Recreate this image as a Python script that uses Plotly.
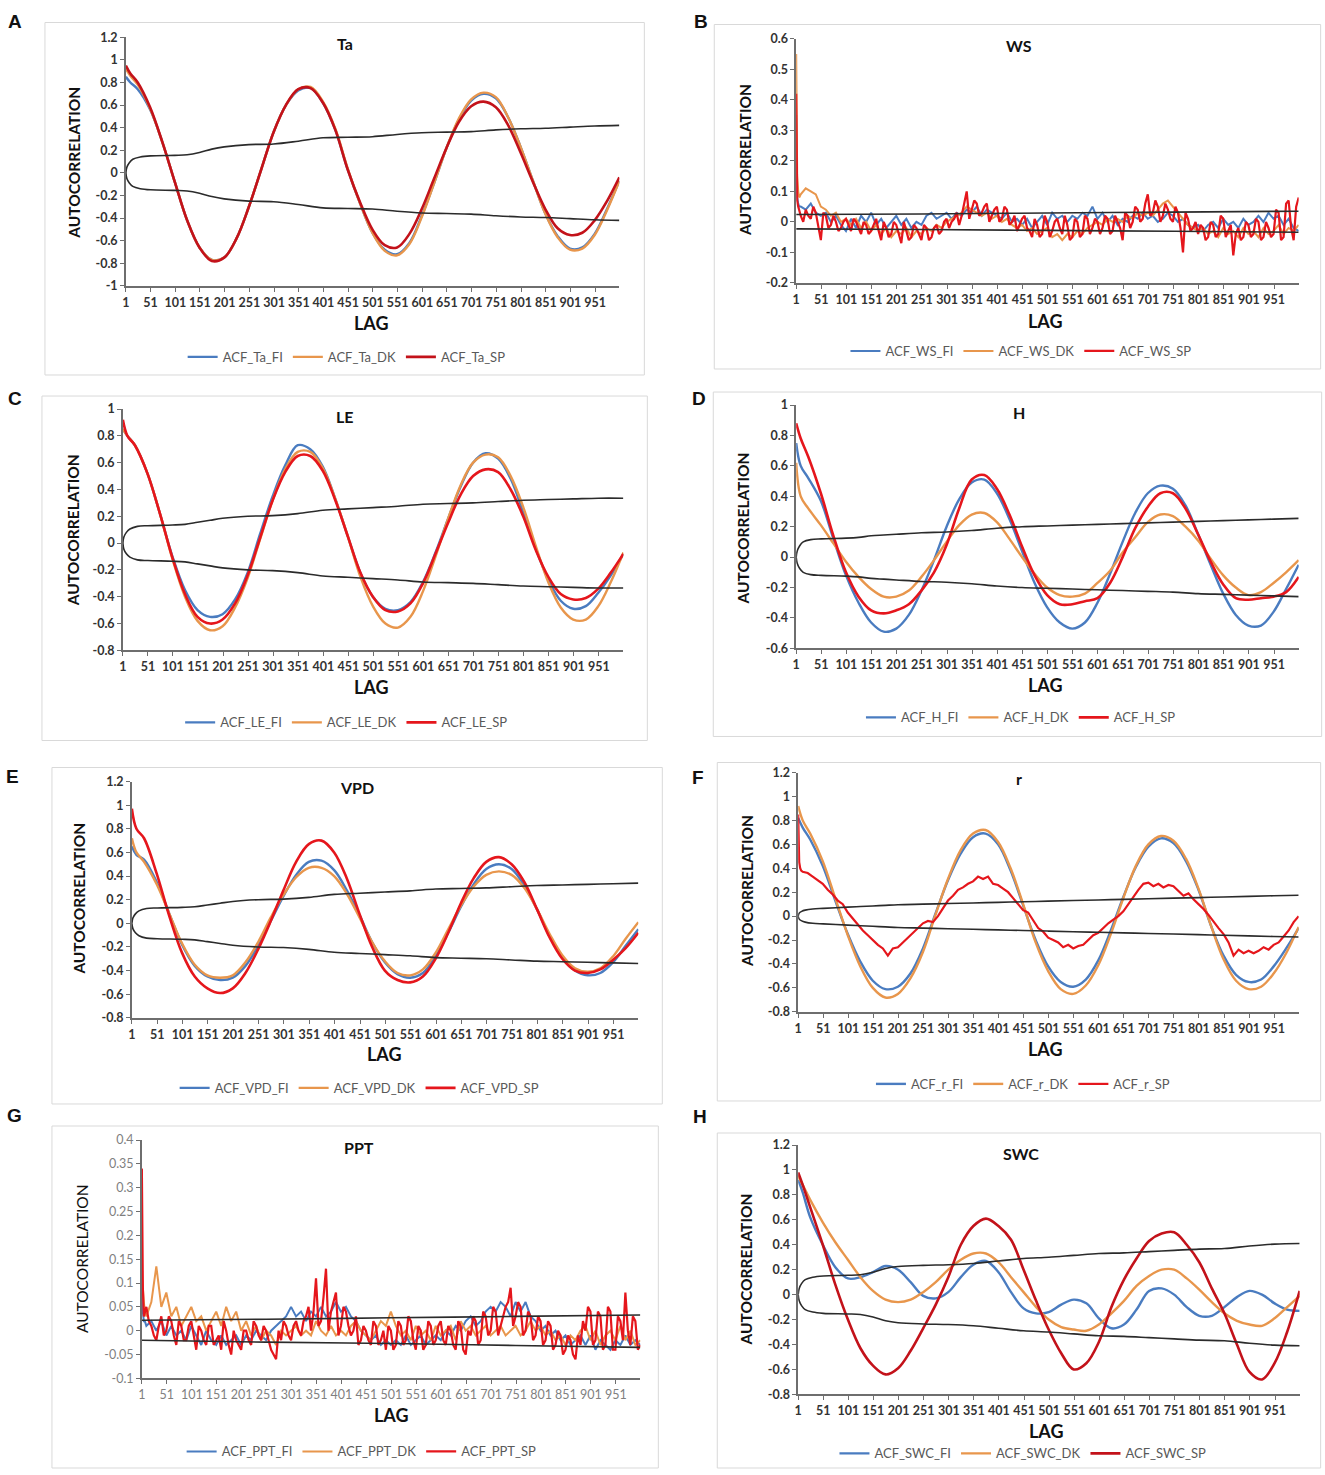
import plotly.graph_objects as go

W, H = 1325, 1475

# ---------------- lags (categories) ----------------
LAGS_S = [1, 10] + list(range(25, 1001, 25))          # smooth series sampling
LAGS_N = [1, 2, 3, 5, 7] + list(range(10, 1001, 10))   # noisy series sampling
LAGS_D = [1, 2, 3, 4] + list(range(5, 1001, 5))        # dense noisy sampling
BAND_LAGS = [1, 3, 8, 15, 30, 51, 100, 125, 150, 175, 200, 250, 300, 350, 400,
             450, 500, 550, 600, 650, 700, 750, 800, 850, 900, 950, 1000]
BAND_LAGS_FLAT = [1, 250, 500, 750, 1000]
X_TICKS = list(range(1, 1000, 50))

# ---------------- A: Ta ----------------
TA_FI = [0.85, 0.80, 0.74, 0.56, 0.27, -0.08, -0.42, -0.66, -0.77, -0.75,
         -0.58, -0.30, 0.03, 0.36, 0.60, 0.73, 0.75, 0.62, 0.38, 0.03,
         -0.27, -0.53, -0.68, -0.72, -0.62, -0.38, -0.09, 0.22, 0.47, 0.64,
         0.70, 0.66, 0.49, 0.23, -0.07, -0.36, -0.56, -0.67, -0.66, -0.54,
         -0.32, -0.07]
TA_DK = [0.92, 0.86, 0.78, 0.57, 0.27, -0.08, -0.42, -0.66, -0.77, -0.75,
         -0.58, -0.30, 0.03, 0.36, 0.60, 0.74, 0.76, 0.63, 0.39, 0.04,
         -0.27, -0.53, -0.69, -0.73, -0.63, -0.39, -0.09, 0.22, 0.48, 0.65,
         0.71, 0.67, 0.49, 0.23, -0.07, -0.36, -0.57, -0.68, -0.67, -0.55,
         -0.33, -0.07]
TA_SP = [0.95, 0.88, 0.80, 0.58, 0.27, -0.08, -0.42, -0.66, -0.78, -0.75,
         -0.58, -0.30, 0.03, 0.36, 0.60, 0.74, 0.75, 0.62, 0.38, 0.03,
         -0.26, -0.50, -0.64, -0.66, -0.54, -0.32, -0.05, 0.22, 0.45, 0.59,
         0.63, 0.58, 0.42, 0.18, -0.08, -0.32, -0.49, -0.55, -0.53, -0.42,
         -0.25, -0.04]
TA_UP = [0, 0.05, 0.09, 0.12, 0.14, 0.15, 0.155, 0.16, 0.18, 0.21, 0.23, 0.25, 0.255, 0.28,
         0.31, 0.315, 0.32, 0.34, 0.355, 0.36, 0.365, 0.38, 0.39, 0.395, 0.405, 0.415, 0.42]
TA_LO = [0, -0.05, -0.09, -0.12, -0.14, -0.15, -0.155, -0.16, -0.18, -0.21, -0.23, -0.25, -0.255, -0.28,
         -0.31, -0.315, -0.32, -0.34, -0.355, -0.36, -0.365, -0.38, -0.39, -0.395, -0.405, -0.415, -0.42]

# ---------------- B: WS ----------------
WS_FI = [0.35, 0.12, 0.08, 0.06, 0.05,
         0.05, 0.04, 0.06, 0.03, 0.02, 0.03, 0.00, 0.02, -0.01, -0.03,
         0.01, -0.02, 0.02, 0.00, 0.03, -0.01, 0.01, -0.02, 0.00, 0.02,
         -0.01, 0.01, -0.02, 0.00, -0.01, 0.02, 0.03, 0.01, 0.02, 0.03,
         0.01, 0.03, 0.02, 0.04, 0.03, 0.05, 0.02, 0.04, 0.03, 0.02,
         0.01, 0.03, 0.00, 0.01, -0.01, 0.01, -0.02, 0.00, 0.02, -0.01,
         0.03, 0.01, 0.02, 0.00, 0.02, 0.01, 0.03, 0.02, 0.05, 0.01,
         0.03, 0.00, 0.02, -0.01, 0.01, 0.00, 0.02, 0.01, 0.03, 0.01,
         0.02, 0.00, 0.01, 0.03, 0.02, 0.00, 0.01, -0.01, -0.02, -0.01,
         -0.03, -0.01, 0.00, -0.02, 0.01, -0.01, 0.00, -0.02, 0.01, -0.01,
         0.00, 0.02, 0.00, 0.03, 0.01, 0.02, -0.01, 0.01, -0.02, -0.03]
WS_DK = [0.55, 0.20, 0.15, 0.10, 0.08,
         0.09, 0.11, 0.10, 0.09, 0.05, 0.04, 0.02, 0.03, 0.00, 0.01,
         -0.01, 0.01, -0.02, 0.00, -0.03, -0.01, -0.04, -0.02, -0.05, -0.03,
         -0.04, -0.02, -0.05, -0.03, -0.04, -0.02, -0.03, -0.01, -0.02, 0.00,
         0.01, 0.02, 0.03, 0.05, 0.04, 0.03, 0.02, 0.03, 0.01, 0.02,
         0.00, 0.01, -0.01, -0.02, -0.01, -0.03, -0.02, -0.04, -0.03, -0.02,
         -0.05, -0.04, -0.06, -0.04, -0.05, -0.03, -0.04, -0.02, -0.01, 0.00,
         -0.01, 0.01, 0.00, 0.01, 0.00, 0.02, 0.01, 0.03, 0.02, 0.03,
         0.02, 0.04, 0.06, 0.07, 0.05, 0.03, 0.01, -0.01, -0.02, -0.03,
         -0.02, -0.04, -0.03, -0.05, -0.02, -0.04, -0.03, -0.05, -0.02, -0.04,
         -0.03, -0.05, -0.02, -0.04, -0.03, -0.01, -0.04, -0.02, -0.03, -0.01]
WS_SP = [0.42, 0.10, 0.07, 0.06,
         0.05, 0.02, 0.00, 0.04, 0.02, 0.01, 0.05, 0.03, -0.01, -0.06,
         0.03, 0.02, -0.02, -0.01, 0.02, 0.00, -0.03, -0.02, 0.00, 0.01,
         -0.01, -0.03, 0.01, 0.00, -0.02, -0.04, 0.00, -0.01, -0.04, -0.03,
         -0.01, 0.01, -0.03, -0.06, 0.00, -0.02, -0.05, -0.04, 0.00, -0.01,
         -0.04, -0.07, 0.00, -0.03, -0.06, -0.05, -0.01, -0.02, -0.04, -0.06,
         -0.01, -0.02, -0.06, -0.05, -0.02, -0.01, -0.04, -0.03, 0.00, 0.01,
         -0.02, 0.00, 0.01, 0.03, -0.01, 0.02, 0.06, 0.10, 0.01, 0.04,
         0.07, 0.06, 0.02, 0.03, 0.05, 0.06, 0.00, 0.02, 0.04, 0.05,
         0.00, 0.01, 0.05, 0.04, -0.01, 0.00, 0.02, -0.03, -0.01, 0.01,
         0.02, -0.02, -0.03, -0.05, 0.01, -0.01, -0.05, -0.04, 0.02, 0.00,
         -0.05, -0.03, 0.00, 0.01, -0.02, -0.04, 0.02, -0.01, -0.06, -0.05,
         0.01, 0.00, -0.05, -0.04, 0.02, 0.01, -0.04, -0.02, 0.01, 0.00,
         -0.04, -0.02, 0.02, 0.01, -0.04, -0.03, 0.02, 0.00, -0.02, -0.06,
         0.03, 0.02, -0.02, 0.00, 0.05, 0.04, 0.00, 0.01, 0.06, 0.09,
         0.02, 0.03, 0.07, 0.05, 0.00, 0.02, 0.06, 0.04, 0.01, 0.00,
         0.05, 0.03, -0.02, -0.10, 0.03, 0.01, -0.03, -0.02, 0.00, -0.04,
         -0.01, -0.02, -0.06, -0.05, 0.00, -0.01, -0.05, -0.04, 0.02, 0.01,
         -0.05, -0.03, -0.01, -0.11, -0.04, -0.02, -0.06, -0.05, 0.00, -0.01,
         -0.05, -0.04, 0.01, 0.00, -0.06, -0.05, 0.00, -0.02, -0.05, -0.04,
         0.04, 0.03, -0.06, -0.05, 0.06, 0.07, -0.02, -0.06, 0.05, 0.08]
WS_UP = [0.024, 0.026, 0.029, 0.032, 0.035]
WS_LO = [-0.023, -0.025, -0.028, -0.031, -0.034]

# ---------------- C: LE ----------------
LE_FI = [0.85, 0.80, 0.73, 0.52, 0.22, -0.10, -0.35, -0.50, -0.55, -0.53,
         -0.42, -0.22, 0.07, 0.35, 0.58, 0.73, 0.70, 0.57, 0.33, 0.05,
         -0.22, -0.40, -0.49, -0.50, -0.44, -0.29, -0.07, 0.18, 0.42, 0.60,
         0.67, 0.63, 0.48, 0.23, -0.04, -0.27, -0.43, -0.49, -0.47, -0.37,
         -0.24, -0.08]
LE_DK = [0.85, 0.80, 0.73, 0.52, 0.22, -0.12, -0.40, -0.58, -0.65, -0.62,
         -0.48, -0.26, 0.03, 0.32, 0.55, 0.68, 0.68, 0.56, 0.33, 0.05,
         -0.25, -0.47, -0.60, -0.63, -0.55, -0.36, -0.10, 0.18, 0.43, 0.60,
         0.66, 0.64, 0.50, 0.27, -0.02, -0.29, -0.48, -0.57, -0.57, -0.47,
         -0.29, -0.07]
LE_SP = [0.92, 0.80, 0.73, 0.52, 0.22, -0.11, -0.38, -0.55, -0.60, -0.57,
         -0.45, -0.24, 0.04, 0.32, 0.53, 0.65, 0.65, 0.54, 0.32, 0.05,
         -0.22, -0.40, -0.50, -0.51, -0.45, -0.30, -0.08, 0.15, 0.36, 0.50,
         0.55, 0.53, 0.40, 0.20, -0.05, -0.25, -0.38, -0.42, -0.41, -0.34,
         -0.22, -0.08]
LE_UP = [0, 0.045, 0.08, 0.105, 0.125, 0.13, 0.135, 0.14, 0.155, 0.17, 0.185, 0.20, 0.205, 0.22,
         0.245, 0.255, 0.265, 0.275, 0.29, 0.295, 0.30, 0.31, 0.32, 0.325, 0.33, 0.335, 0.335]
LE_LO = [0, -0.045, -0.08, -0.105, -0.125, -0.13, -0.135, -0.14, -0.155, -0.17, -0.185, -0.20, -0.205, -0.22,
         -0.245, -0.255, -0.265, -0.275, -0.29, -0.295, -0.30, -0.31, -0.32, -0.325, -0.33, -0.335, -0.335]

# ---------------- D: H ----------------
H_FI = [0.75, 0.60, 0.52, 0.37, 0.12, -0.12, -0.30, -0.43, -0.49, -0.47,
        -0.38, -0.22, -0.02, 0.20, 0.38, 0.49, 0.51, 0.42, 0.25, 0.04,
        -0.17, -0.33, -0.43, -0.47, -0.43, -0.30, -0.11, 0.10, 0.29, 0.42,
        0.47, 0.45, 0.34, 0.15, -0.05, -0.24, -0.38, -0.45, -0.45, -0.36,
        -0.21, -0.05]
H_DK = [0.62, 0.40, 0.32, 0.21, 0.09, -0.03, -0.13, -0.21, -0.26, -0.26,
        -0.22, -0.13, -0.02, 0.10, 0.21, 0.28, 0.29, 0.23, 0.12, 0.00,
        -0.11, -0.20, -0.25, -0.26, -0.24, -0.17, -0.09, 0.03, 0.13, 0.23,
        0.28, 0.27, 0.20, 0.11, -0.01, -0.12, -0.20, -0.25, -0.23, -0.17,
        -0.10, -0.02]
H_SP = [0.88, 0.78, 0.66, 0.42, 0.14, -0.10, -0.26, -0.35, -0.37, -0.35,
        -0.31, -0.22, -0.10, 0.08, 0.32, 0.51, 0.54, 0.45, 0.28, 0.07,
        -0.12, -0.25, -0.31, -0.31, -0.29, -0.27, -0.17, 0.00, 0.19, 0.33,
        0.42, 0.42, 0.32, 0.15, -0.03, -0.18, -0.27, -0.28, -0.27, -0.26,
        -0.23, -0.13]
H_UP = [0, 0.04, 0.075, 0.10, 0.115, 0.12, 0.125, 0.13, 0.14, 0.145, 0.15, 0.16, 0.165, 0.175,
        0.19, 0.20, 0.205, 0.21, 0.215, 0.22, 0.225, 0.23, 0.235, 0.24, 0.245, 0.25, 0.255]
H_LO = [0, -0.04, -0.075, -0.10, -0.115, -0.12, -0.125, -0.13, -0.14, -0.145, -0.15, -0.16, -0.165, -0.175,
        -0.19, -0.20, -0.205, -0.21, -0.215, -0.22, -0.225, -0.23, -0.24, -0.245, -0.25, -0.255, -0.26]

# ---------------- E: VPD ----------------
VPD_FI = [0.65, 0.58, 0.54, 0.35, 0.08, -0.18, -0.36, -0.45, -0.48, -0.46,
          -0.36, -0.19, 0.02, 0.23, 0.41, 0.52, 0.53, 0.45, 0.28, 0.07,
          -0.16, -0.33, -0.43, -0.46, -0.42, -0.28, -0.08, 0.14, 0.33, 0.46,
          0.50, 0.46, 0.32, 0.12, -0.11, -0.29, -0.40, -0.44, -0.42, -0.33,
          -0.19, -0.05]
VPD_DK = [0.72, 0.60, 0.52, 0.33, 0.08, -0.17, -0.35, -0.44, -0.46, -0.44,
          -0.33, -0.16, 0.05, 0.24, 0.39, 0.47, 0.47, 0.40, 0.25, 0.05,
          -0.16, -0.32, -0.42, -0.44, -0.39, -0.25, -0.05, 0.15, 0.31, 0.41,
          0.44, 0.41, 0.30, 0.12, -0.09, -0.27, -0.38, -0.41, -0.38, -0.28,
          -0.13, 0.01]
VPD_SP = [0.97, 0.80, 0.72, 0.42, 0.06, -0.25, -0.45, -0.55, -0.59, -0.55,
          -0.42, -0.22, 0.02, 0.28, 0.52, 0.67, 0.70, 0.60, 0.38, 0.08,
          -0.20, -0.40, -0.48, -0.50, -0.45, -0.30, -0.08, 0.17, 0.38, 0.52,
          0.56, 0.50, 0.35, 0.12, -0.12, -0.30, -0.40, -0.42, -0.39, -0.31,
          -0.21, -0.08]
VPD_UP = [0, 0.045, 0.08, 0.105, 0.125, 0.13, 0.135, 0.14, 0.155, 0.17, 0.185, 0.20, 0.205, 0.22,
          0.245, 0.255, 0.265, 0.275, 0.29, 0.295, 0.30, 0.31, 0.32, 0.325, 0.33, 0.335, 0.34]
VPD_LO = [0, -0.045, -0.08, -0.105, -0.125, -0.13, -0.135, -0.14, -0.155, -0.17, -0.185, -0.20, -0.205, -0.22,
          -0.245, -0.255, -0.265, -0.275, -0.29, -0.295, -0.30, -0.31, -0.32, -0.325, -0.33, -0.335, -0.34]

# ---------------- F: r ----------------
R_FI = [0.82, 0.74, 0.64, 0.42, 0.13, -0.15, -0.38, -0.54, -0.61, -0.59,
        -0.48, -0.27, 0.02, 0.30, 0.52, 0.66, 0.69, 0.60, 0.38, 0.09,
        -0.20, -0.42, -0.55, -0.59, -0.53, -0.37, -0.12, 0.16, 0.41, 0.58,
        0.65, 0.61, 0.46, 0.22, -0.08, -0.33, -0.49, -0.55, -0.53, -0.42,
        -0.27, -0.10]
R_DK = [0.92, 0.80, 0.69, 0.46, 0.15, -0.16, -0.42, -0.60, -0.68, -0.65,
        -0.52, -0.30, 0.01, 0.31, 0.55, 0.69, 0.72, 0.62, 0.40, 0.10,
        -0.22, -0.46, -0.61, -0.65, -0.58, -0.41, -0.15, 0.15, 0.42, 0.60,
        0.67, 0.63, 0.48, 0.23, -0.08, -0.36, -0.54, -0.61, -0.59, -0.48,
        -0.31, -0.09]
R_SP = [0.85, 0.55, 0.45, 0.40, 0.38,
        0.37, 0.36, 0.33, 0.30, 0.27, 0.22, 0.18, 0.13, 0.10, 0.03,
        -0.02, -0.07, -0.12, -0.16, -0.20, -0.24, -0.27, -0.33, -0.27, -0.26,
        -0.22, -0.18, -0.14, -0.10, -0.06, -0.04, -0.05, 0.00, 0.06, 0.13,
        0.17, 0.22, 0.24, 0.27, 0.29, 0.33, 0.31, 0.33, 0.27, 0.26,
        0.23, 0.20, 0.15, 0.10, 0.05, 0.03, -0.04, -0.10, -0.13, -0.18,
        -0.20, -0.22, -0.26, -0.24, -0.27, -0.25, -0.24, -0.20, -0.16, -0.14,
        -0.10, -0.06, -0.03, 0.00, 0.04, 0.10, 0.17, 0.22, 0.27, 0.28,
        0.25, 0.27, 0.24, 0.26, 0.25, 0.21, 0.17, 0.19, 0.14, 0.10,
        0.06, 0.01, -0.05, -0.10, -0.15, -0.22, -0.33, -0.28, -0.31, -0.29,
        -0.31, -0.29, -0.26, -0.28, -0.24, -0.22, -0.17, -0.12, -0.05, 0.00]
R_UP = [0, 0.025, 0.04, 0.05, 0.06, 0.065, 0.075, 0.08, 0.085, 0.09, 0.095, 0.10, 0.105, 0.11,
        0.115, 0.12, 0.125, 0.13, 0.135, 0.14, 0.145, 0.15, 0.155, 0.16, 0.165, 0.17, 0.175]
R_LO = [0, -0.025, -0.04, -0.05, -0.06, -0.065, -0.075, -0.08, -0.085, -0.09, -0.095, -0.10, -0.105, -0.11,
        -0.115, -0.12, -0.125, -0.13, -0.135, -0.14, -0.145, -0.15, -0.155, -0.16, -0.165, -0.17, -0.175]

# ---------------- G: PPT ----------------
PPT_FI = [0.10, 0.05, 0.04, 0.02, 0.02,
          0.01, 0.02, 0.00, 0.02, -0.01, 0.01, -0.01, 0.00, -0.02, 0.01,
          -0.01, -0.03, 0.00, -0.02, -0.03, -0.01, -0.03, -0.02, -0.01, -0.03,
          -0.01, -0.02, 0.00, -0.01, -0.02, 0.00, 0.01, 0.02, 0.03, 0.05,
          0.03, 0.04, 0.02, 0.04, 0.03, 0.05, 0.03, 0.04, 0.06, 0.04,
          0.05, 0.03, 0.02, 0.00, -0.01, -0.02, -0.01, -0.03, -0.02, -0.03,
          -0.02, -0.03, -0.01, -0.03, -0.02, -0.01, -0.03, -0.02, -0.01, -0.02,
          0.00, -0.01, 0.01, 0.00, 0.02, 0.03, 0.01, 0.02, 0.04, 0.05,
          0.04, 0.06, 0.05, 0.03, 0.06, 0.04, 0.06, 0.03, 0.02, 0.00,
          0.01, -0.01, 0.00, -0.02, -0.01, -0.03, -0.02, -0.01, -0.03, -0.01,
          -0.04, -0.02, -0.03, -0.04, -0.02, -0.03, -0.01, -0.03, -0.02, -0.03]
PPT_DK = [0.12, 0.10, 0.08, 0.06, 0.04,
          0.03, 0.06, 0.135, 0.05, 0.08, 0.03, 0.05, 0.01, 0.03, 0.05,
          0.02, 0.03, 0.00, 0.02, 0.04, 0.01, 0.05, 0.02, 0.04, 0.00,
          0.02, -0.01, 0.01, -0.02, 0.00, -0.01, -0.03, 0.00, -0.01, 0.00,
          0.01, -0.01, 0.00, -0.01, 0.02, 0.00, -0.01, 0.01, -0.01, 0.00,
          -0.01, 0.01, 0.02, 0.00, -0.01, -0.02, 0.00, 0.02, 0.01, 0.04,
          0.01, -0.01, 0.00, -0.02, 0.01, -0.01, 0.00, -0.02, 0.01, -0.01,
          0.00, 0.01, -0.02, 0.02, 0.00, 0.01, -0.01, 0.00, 0.01, -0.01,
          0.00, 0.01, -0.01, 0.00, 0.01, -0.01, 0.00, 0.02, 0.00, 0.01,
          -0.01, 0.00, -0.02, -0.01, -0.03, -0.01, -0.02, 0.00, 0.01, -0.02,
          0.00, -0.03, -0.01, 0.00, -0.02, 0.01, -0.02, 0.00, -0.03, -0.02]
PPT_SP = [0.34, 0.15, 0.09, 0.06,
          0.03, 0.05, 0.02, 0.01, -0.01, -0.02, 0.01, 0.03, -0.01, 0.00,
          0.03, 0.02, -0.01, -0.03, 0.02, 0.01, -0.02, -0.02, 0.01, 0.02,
          -0.01, -0.04, 0.01, 0.00, -0.02, -0.03, 0.01, 0.01, -0.03, -0.02,
          -0.01, -0.04, 0.02, 0.00, -0.03, -0.05, 0.00, -0.02, -0.03, -0.04,
          0.00, 0.00, -0.02, -0.03, 0.02, 0.01, -0.01, -0.02, 0.01, 0.00,
          -0.02, -0.04, -0.05, -0.06, 0.00, -0.02, 0.02, 0.01, -0.01, -0.02,
          0.01, 0.02, 0.00, -0.01, 0.02, 0.03, 0.05, 0.00, 0.04, 0.11,
          0.01, 0.02, 0.07, 0.13, 0.00, 0.04, 0.06, 0.08, -0.01, 0.01,
          0.05, 0.04, 0.01, -0.01, 0.00, 0.03, -0.03, -0.02, 0.01, 0.00,
          -0.02, -0.03, 0.02, 0.01, -0.03, -0.02, 0.00, -0.04, 0.01, 0.00,
          -0.04, -0.03, 0.02, 0.01, -0.03, -0.02, 0.03, 0.02, -0.02, -0.04,
          0.01, 0.00, -0.04, -0.03, 0.02, 0.01, -0.03, -0.02, 0.01, 0.02,
          -0.02, -0.03, 0.01, 0.00, -0.03, -0.04, 0.02, 0.01, -0.04, -0.05,
          0.00, -0.01, 0.03, 0.02, -0.03, -0.02, 0.04, 0.03, -0.01, 0.00,
          0.05, 0.04, -0.01, 0.01, 0.03, 0.05, 0.06, 0.09, 0.01, 0.03,
          0.06, 0.05, -0.01, 0.00, 0.04, 0.03, -0.02, -0.01, 0.03, 0.02,
          -0.03, -0.02, 0.02, 0.01, -0.04, -0.03, 0.00, -0.01, -0.05, -0.04,
          -0.01, -0.02, -0.05, -0.06, -0.01, -0.03, 0.02, 0.00, 0.05, 0.04,
          -0.03, -0.02, 0.04, 0.03, -0.04, -0.03, 0.05, 0.04, -0.04, -0.04,
          0.03, 0.02, -0.02, 0.08, 0.00, -0.03, 0.03, 0.02, -0.04, -0.03]
PPT_UP = [0.022, 0.024, 0.027, 0.030, 0.033]
PPT_LO = [-0.020, -0.024, -0.027, -0.031, -0.035]

# ---------------- H: SWC ----------------
SWC_FI = [0.92, 0.82, 0.62, 0.40, 0.22, 0.13, 0.14, 0.18, 0.23, 0.20,
          0.10, -0.01, -0.03, 0.02, 0.14, 0.24, 0.27, 0.18, 0.02, -0.11,
          -0.15, -0.14, -0.08, -0.04, -0.07, -0.19, -0.27, -0.24, -0.12, 0.03,
          0.05, 0.00, -0.10, -0.17, -0.17, -0.10, -0.02, 0.03, 0.00, -0.07,
          -0.12, -0.13]
SWC_DK = [0.95, 0.88, 0.76, 0.58, 0.42, 0.28, 0.14, 0.03, -0.04, -0.06,
          -0.04, 0.02, 0.10, 0.20, 0.28, 0.33, 0.33, 0.26, 0.14, 0.02,
          -0.10, -0.20, -0.26, -0.28, -0.29, -0.24, -0.15, -0.05, 0.07, 0.15,
          0.20, 0.20, 0.13, 0.04, -0.06, -0.15, -0.21, -0.24, -0.25, -0.19,
          -0.10, -0.01]
SWC_SP = [0.98, 0.88, 0.70, 0.40, 0.08, -0.20, -0.43, -0.57, -0.64, -0.59,
          -0.45, -0.27, -0.08, 0.14, 0.40, 0.55, 0.61, 0.55, 0.44, 0.20,
          -0.05, -0.28, -0.47, -0.60, -0.55, -0.38, -0.10, 0.12, 0.29, 0.43,
          0.49, 0.50, 0.40, 0.26, 0.05, -0.15, -0.40, -0.62, -0.68, -0.55,
          -0.30, 0.03]
SWC_UP = [0, 0.05, 0.09, 0.12, 0.14, 0.15, 0.155, 0.16, 0.18, 0.21, 0.225, 0.235, 0.24, 0.25,
          0.27, 0.29, 0.30, 0.315, 0.33, 0.335, 0.345, 0.355, 0.365, 0.37, 0.39, 0.405, 0.41]
SWC_LO = [0, -0.05, -0.09, -0.12, -0.14, -0.15, -0.155, -0.16, -0.18, -0.21, -0.225, -0.235, -0.24, -0.25,
          -0.27, -0.29, -0.30, -0.315, -0.33, -0.335, -0.345, -0.355, -0.365, -0.37, -0.39, -0.405, -0.41]

# ---------------- y tick lists ----------------
YT_A = [-1, -0.8, -0.6, -0.4, -0.2, 0, 0.2, 0.4, 0.6, 0.8, 1, 1.2]
YT_B = [-0.2, -0.1, 0, 0.1, 0.2, 0.3, 0.4, 0.5, 0.6]
YT_C = [-0.8, -0.6, -0.4, -0.2, 0, 0.2, 0.4, 0.6, 0.8, 1]
YT_D = [-0.6, -0.4, -0.2, 0, 0.2, 0.4, 0.6, 0.8, 1]
YT_E = [-0.8, -0.6, -0.4, -0.2, 0, 0.2, 0.4, 0.6, 0.8, 1, 1.2]
YT_G = [-0.1, -0.05, 0, 0.05, 0.1, 0.15, 0.2, 0.25, 0.3, 0.35, 0.4]

# ---------------- styles ----------------
BLUE = "#4A7CC0"
ORANGE = "#E8964C"
RED = "#E5161C"
DARKRED = "#C3121A"
BAND = "#2B2B2B"

PANELS = [
    dict(letter="A", title="Ta", var="Ta", yt=YT_A,
         series=[(TA_FI, LAGS_S, "spline"), (TA_DK, LAGS_S, "spline"), (TA_SP, LAGS_S, "spline")],
         band=(TA_UP, TA_LO, BAND_LAGS), red=DARKRED, plain=False,
         geom=dict(x0=124, x1=618, y0=37.7, y1=286, box=(43, 23, 643, 375), letter=(13, 22),
                   title=(343, 44), lag=(370, 323), ytitle=(72, 163), legend=(345, 357))),
    dict(letter="B", title="WS", var="WS", yt=YT_B,
         series=[(WS_FI, LAGS_N, "linear"), (WS_DK, LAGS_N, "linear"), (WS_SP, LAGS_D, "linear")],
         band=(WS_UP, WS_LO, BAND_LAGS_FLAT), red=RED, plain=False,
         geom=dict(x0=795, x1=1298, y0=39.3, y1=283, box=(713, 25, 1320, 369), letter=(700, 22),
                   title=(1018, 46), lag=(1045, 321), ytitle=(743, 160), legend=(1020, 351))),
    dict(letter="C", title="LE", var="LE", yt=YT_C,
         series=[(LE_FI, LAGS_S, "spline"), (LE_DK, LAGS_S, "spline"), (LE_SP, LAGS_S, "spline")],
         band=(LE_UP, LE_LO, BAND_LAGS), red=RED, plain=False,
         geom=dict(x0=121, x1=622, y0=409, y1=650, box=(40, 396, 646, 740), letter=(13, 398),
                   title=(343, 416), lag=(370, 687), ytitle=(71, 530), legend=(345, 722))),
    dict(letter="D", title="H", var="H", yt=YT_D,
         series=[(H_FI, LAGS_S, "spline"), (H_DK, LAGS_S, "spline"), (H_SP, LAGS_S, "spline")],
         band=(H_UP, H_LO, BAND_LAGS), red=RED, plain=False,
         geom=dict(x0=795, x1=1298, y0=405, y1=648, box=(712, 392, 1321, 736), letter=(698, 398),
                   title=(1018, 412), lag=(1045, 685), ytitle=(742, 528), legend=(1020, 717))),
    dict(letter="E", title="VPD", var="VPD", yt=YT_E,
         series=[(VPD_FI, LAGS_S, "spline"), (VPD_DK, LAGS_S, "spline"), (VPD_SP, LAGS_S, "spline")],
         band=(VPD_UP, VPD_LO, BAND_LAGS), red=RED, plain=False,
         geom=dict(x0=130, x1=637, y0=781, y1=1017, box=(50, 767, 661, 1103), letter=(11, 776),
                   title=(355, 787), lag=(383, 1053), ytitle=(77, 898), legend=(358, 1087))),
    dict(letter="F", title="r", var="r", yt=YT_E,
         series=[(R_FI, LAGS_S, "spline"), (R_DK, LAGS_S, "spline"), (R_SP, LAGS_N, "linear")],
         band=(R_UP, R_LO, BAND_LAGS), red=RED, plain=False,
         geom=dict(x0=797, x1=1298, y0=772, y1=1011, box=(716, 762, 1320, 1100), letter=(697, 777),
                   title=(1018, 778), lag=(1045, 1048), ytitle=(745, 890), legend=(1022, 1083))),
    dict(letter="G", title="PPT", var="PPT", yt=YT_G,
         series=[(PPT_FI, LAGS_N, "linear"), (PPT_DK, LAGS_N, "linear"), (PPT_SP, LAGS_D, "linear")],
         band=(PPT_UP, PPT_LO, BAND_LAGS_FLAT), red=RED, plain=True,
         geom=dict(x0=140, x1=639, y0=1139, y1=1377, box=(50, 1125, 657, 1469), letter=(13, 1115),
                   title=(357, 1146), lag=(390, 1414), ytitle=(80, 1257), legend=(360, 1450))),
    dict(letter="H", title="SWC", var="SWC", yt=YT_E,
         series=[(SWC_FI, LAGS_S, "spline"), (SWC_DK, LAGS_S, "spline"), (SWC_SP, LAGS_S, "spline")],
         band=(SWC_UP, SWC_LO, BAND_LAGS), red=DARKRED, plain=False,
         geom=dict(x0=797, x1=1299, y0=1144, y1=1393, box=(716, 1132, 1320, 1470), letter=(699, 1116),
                   title=(1020, 1152), lag=(1046, 1430), ytitle=(745, 1268), legend=(1022, 1452))),
]

# Pixel -> paper mapping (with a small correction for how the page is captured)
X_OFF, X_SCALE = 2.0, 0.998
Y_OFF, Y_SCALE = 8.5, 0.9885


def fx(p):
    return min(max(((p - X_OFF) / X_SCALE) / W, 0.0), 1.0)


def fy(p):
    return min(max(1 - ((p - Y_OFF) / Y_SCALE) / H, 0.0), 1.0)


def fmt(v):
    return f"{round(v, 3):g}"


fig = go.Figure()
annotations = []
shapes = []
layout_upd = {}

AXCOL = "#6E6E6E"

for i, pn in enumerate(PANELS, start=1):
    g = pn["geom"]
    xref = "x" if i == 1 else f"x{i}"
    yref = "y" if i == 1 else f"y{i}"
    xkey = "xaxis" if i == 1 else f"xaxis{i}"
    ykey = "yaxis" if i == 1 else f"yaxis{i}"
    lkey = "legend" if i == 1 else f"legend{i}"
    plain = pn["plain"]

    colors = [BLUE, ORANGE, pn["red"]]
    suffix = ["FI", "DK", "SP"]
    for k, ((vals, lags, shape), col, sfx) in enumerate(zip(pn["series"], colors, suffix)):
        if shape == "spline":
            wd = 2.6 if k == 2 else 2.4
        else:
            wd = 2.2 if k == 2 else 2.0
        fig.add_trace(go.Scatter(
            x=lags[:len(vals)], y=vals, mode="lines",
            line=dict(color=col, width=wd, shape=shape),
            name=f"ACF_{pn['var']}_{sfx}", xaxis=xref, yaxis=yref, legend=lkey,
            showlegend=True, hoverinfo="skip"))
    up, lo, blags = pn["band"]
    for bv in (up, lo):
        fig.add_trace(go.Scatter(
            x=blags[:len(bv)], y=bv, mode="lines",
            line=dict(color=BAND, width=1.6, shape="spline"),
            xaxis=xref, yaxis=yref, showlegend=False, hoverinfo="skip"))

    tickfont = (dict(family="Lato", size=12.5, color="#7F7F7F") if plain
                else dict(family="Lato", size=12.5, color="#333333", weight="bold"))
    layout_upd[xkey] = dict(
        domain=[fx(g["x0"]), fx(g["x1"])], anchor=yref, range=[1, 1000],
        tickvals=X_TICKS, ticktext=[str(t) for t in X_TICKS],
        showline=True, linecolor=AXCOL, linewidth=1.5, ticks="outside", ticklen=4,
        tickcolor=AXCOL, showgrid=False, zeroline=False, tickfont=tickfont, tickangle=0)
    yt = pn["yt"]
    layout_upd[ykey] = dict(
        domain=[fy(g["y1"]), fy(g["y0"])], anchor=xref, range=[yt[0], yt[-1]],
        tickvals=yt, ticktext=[fmt(v) for v in yt],
        showline=True, linecolor=AXCOL, linewidth=1.5, ticks="outside", ticklen=4,
        tickcolor=AXCOL, showgrid=False, zeroline=False, tickfont=tickfont)
    layout_upd[lkey] = dict(
        orientation="h", x=fx(g["legend"][0]), xanchor="center",
        y=fy(g["legend"][1]), yanchor="middle", bgcolor="rgba(0,0,0,0)",
        font=dict(family="Lato", size=13, color="#595959"), itemwidth=30,
        traceorder="normal")

    bx0, by0, bx1, by1 = g["box"]
    shapes.append(dict(type="rect", xref="paper", yref="paper",
                       x0=fx(bx0), x1=fx(bx1), y0=fy(by1), y1=fy(by0),
                       line=dict(color="#D9D9D9", width=1), fillcolor="rgba(0,0,0,0)", layer="below"))

    annotations.append(dict(text=pn["letter"], x=fx(g["letter"][0]), y=fy(g["letter"][1]),
                            xref="paper", yref="paper", showarrow=False, xanchor="center", yanchor="middle",
                            font=dict(family="Liberation Sans", size=19, color="#111111", weight="bold")))
    annotations.append(dict(text=pn["title"], x=fx(g["title"][0]), y=fy(g["title"][1]),
                            xref="paper", yref="paper", showarrow=False, xanchor="center", yanchor="middle",
                            font=dict(family="Lato", size=16, color="#111111", weight="bold")))
    annotations.append(dict(text="LAG", x=fx(g["lag"][0]), y=fy(g["lag"][1]),
                            xref="paper", yref="paper", showarrow=False, xanchor="center", yanchor="middle",
                            font=dict(family="Lato", size=18, color="#111111", weight="bold")))
    annotations.append(dict(text="AUTOCORRELATION", x=fx(g["ytitle"][0]), y=fy(g["ytitle"][1]),
                            xref="paper", yref="paper", showarrow=False, xanchor="center", yanchor="middle",
                            textangle=-90,
                            font=dict(family="Lato", size=15.5, color="#111111",
                                      weight="normal" if plain else "bold")))

fig.update_layout(
    width=W, height=H, margin=dict(l=0, r=0, t=0, b=0),
    paper_bgcolor="white", plot_bgcolor="white",
    annotations=annotations, shapes=shapes, **layout_upd)

fig.write_html(
    "out.html",
    config={"displayModeBar": False},
    post_script=("document.body.style.margin='0px';document.body.style.padding='0px';"
                 "document.documentElement.style.overflow='hidden';document.body.style.overflow='hidden';"))
